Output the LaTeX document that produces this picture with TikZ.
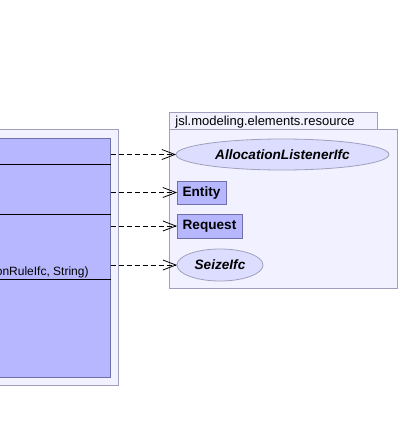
\documentclass[tikz,border=0pt]{standalone}
\usepackage{fontspec}
\setmainfont{Liberation Sans}
\usepackage{tikz}
\usetikzlibrary{arrows.meta,shapes.geometric}
\definecolor{classfill}{RGB}{183,183,255}
\definecolor{pkgfill}{RGB}{241,241,255}
\definecolor{pkgline}{RGB}{160,160,190}
\definecolor{ifcfill}{RGB}{221,221,255}
\definecolor{boxline}{RGB}{112,112,170}
\newcommand\umlfont{\fontsize{13}{15}\selectfont}
\newcommand\typefont{\fontsize{13.6}{16}\selectfont\bfseries}

\begin{document}
\begin{tikzpicture}[x=1pt, y=-1pt, line width=0.8pt]
        \useasboundingbox (0,0) rectangle (400,423);
        \tikzset{
            pkgframe/.style={draw=pkgline, fill=pkgfill},
            classbox/.style={draw=boxline, fill=classfill, inner sep=0pt, outer sep=0pt},
            ifcnode/.style={ellipse, draw=pkgline, fill=ifcfill, inner sep=0pt, outer sep=0pt, font=\typefont\itshape},
            typenode/.style={draw=boxline, fill=classfill, inner sep=0pt, outer sep=0pt, font=\typefont},
            dep/.style={dash pattern=on 5pt off 3pt, -{Straight Barb[length=13pt, width=10pt]}}
        }
        % left package with the cut class
        \draw[pkgframe] (-10,129) rectangle (118,385);
        \node[classbox, anchor=north east, minimum width=120.7pt, minimum height=239pt] (cls) at (110.7,138) {};
        \draw[black] (cls.west |- 0,164) -- (cls.east |- 0,164);
        \draw[black] (cls.west |- 0,214) -- (cls.east |- 0,214);
        \draw[black] (cls.west |- 0,279) -- (cls.east |- 0,279);
        \node[anchor=base east, inner sep=0pt, font=\fontsize{12}{14}\selectfont] (sig) at (89,275) {onRuleIfc, String)};
        % package jsl.modeling.elements.resource
        \draw[pkgframe] (169,112) rectangle (377,129);
        \draw[pkgframe] (169,129) rectangle (397,288);
        \node[anchor=base west, inner sep=0pt, font=\umlfont] (pkgname) at (175,125.5) {jsl.modeling.elements.resource};
        \node[ifcnode, minimum width=213pt, minimum height=31pt] (alloc) at (282.5,154.5) {AllocationListenerIfc};
        \node[typenode, minimum width=49pt, minimum height=23pt] (entity) at (201.5,192.5) {Entity};
        \node[typenode, minimum width=65pt, minimum height=24pt] (request) at (209.5,226) {Request};
        \node[ifcnode, minimum width=86pt, minimum height=32pt] (seize) at (220,265) {SeizeIfc};
        % dependencies
        \draw[dep] (cls.east |- alloc.west) -- (alloc.west);
        \draw[dep] (cls.east |- entity.west) -- (entity.west);
        \draw[dep] (cls.east |- request.west) -- (request.west);
        \draw[dep] (cls.east |- seize.west) -- (seize.west);
    \end{tikzpicture}
\end{document}
